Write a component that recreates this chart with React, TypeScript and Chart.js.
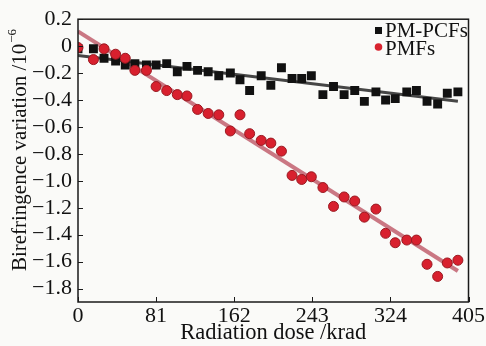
import React, { useEffect, useRef } from "react";
import { Chart, registerables } from "chart.js";

Chart.register(...registerables);

// Radiation dose (krad) of each measurement
const doseKrad = [0, 16, 27, 39, 49, 59, 71, 81, 92, 103, 113, 124, 135, 146, 158, 168, 178, 190, 200, 211, 222, 232, 242, 254, 265, 276, 287, 297, 309, 319, 329, 341, 351, 362, 373, 383, 394];
// PM-PCFs birefringence variation (1e-6)
const pcfValues = [-0.02, -0.02, -0.09, -0.11, -0.14, -0.13, -0.14, -0.14, -0.13, -0.19, -0.15, -0.18, -0.19, -0.22, -0.2, -0.25, -0.33, -0.22, -0.29, -0.16, -0.24, -0.24, -0.22, -0.36, -0.3, -0.36, -0.33, -0.41, -0.34, -0.4, -0.39, -0.34, -0.33, -0.41, -0.43, -0.35, -0.34];
// PMFs birefringence variation (1e-6)
const pmfValues = [-0.01, -0.1, -0.02, -0.06, -0.09, -0.18, -0.18, -0.3, -0.33, -0.36, -0.37, -0.47, -0.5, -0.51, -0.63, -0.51, -0.65, -0.7, -0.72, -0.78, -0.96, -0.99, -0.97, -1.05, -1.19, -1.12, -1.15, -1.27, -1.21, -1.39, -1.46, -1.44, -1.44, -1.62, -1.71, -1.61, -1.59];
// Fitted lines (end points)
const fitDose = [0, 394];
const pcfFit = [-0.07, -0.41];
const pmfFit = [0.11, -1.67];

const xTicks = [0, 81, 162, 243, 324, 405];
const yTicks = [0.2, 0, -0.2, -0.4, -0.6, -0.8, -1.0, -1.2, -1.4, -1.6, -1.8];
const seriesNames = ["PM-PCFs", "PMFs"];
const xTitle = "Radiation dose /krad";
const yTitle = "Birefringence variation /10";
const yTitleSup = "−6";

const FONT = "'Liberation Serif', 'Times New Roman', serif";

const toPts = (xs: number[], ys: number[]) => xs.map((x, i) => ({ x, y: ys[i] }));

const fmtY = (v: number) => {
  if (Math.abs(v) < 1e-9) return "0";
  return (v < 0 ? "−" : "") + Math.abs(v).toFixed(1);
};

const decorPlugin = {
  id: "decor",
  beforeDraw(chart: any) {
    const ctx = chart.ctx;
    ctx.save();
    ctx.fillStyle = "#fafaf8";
    ctx.fillRect(0, 0, chart.width, chart.height);
    ctx.restore();
  },
  afterDraw(chart: any) {
    const ctx = chart.ctx;
    const a = chart.chartArea;
    const xs = chart.scales.x;
    const ys = chart.scales.y;
    ctx.save();
    // frame
    ctx.strokeStyle = "#1a1a1a";
    ctx.lineWidth = 1.5;
    ctx.strokeRect(a.left, a.top, a.right - a.left, a.bottom - a.top);
    // inward ticks
    ctx.lineWidth = 1;
    ctx.beginPath();
    xTicks.forEach((v) => {
      const px = Math.round(xs.getPixelForValue(v)) + 0.5;
      ctx.moveTo(px, a.bottom);
      ctx.lineTo(px, a.bottom - 5);
    });
    yTicks.forEach((v) => {
      const py = Math.round(ys.getPixelForValue(v)) + 0.5;
      ctx.moveTo(a.left, py);
      ctx.lineTo(a.left + 5, py);
    });
    ctx.stroke();

    // titles
    ctx.fillStyle = "#111";
    ctx.font = `22.5px ${FONT}`;
    ctx.textAlign = "center";
    ctx.textBaseline = "middle";
    ctx.fillText(xTitle, (a.left + a.right) / 2, 333);

    ctx.save();
    ctx.translate(20, 150);
    ctx.rotate(-Math.PI / 2);
    ctx.font = `21px ${FONT}`;
    const mainW = ctx.measureText(yTitle).width;
    ctx.font = `13px ${FONT}`;
    const supW = ctx.measureText(yTitleSup).width;
    const total = mainW + supW + 1;
    ctx.textAlign = "left";
    ctx.font = `21px ${FONT}`;
    ctx.fillText(yTitle, -total / 2, 0);
    ctx.font = `13px ${FONT}`;
    ctx.fillText(yTitleSup, -total / 2 + mainW + 1, -7);
    ctx.restore();

    // legend
    ctx.font = `21px ${FONT}`;
    ctx.textAlign = "left";
    ctx.textBaseline = "middle";
    ctx.fillStyle = "#111";
    ctx.fillRect(375, 27, 7, 7);
    ctx.fillText(seriesNames[0], 385, 31);
    ctx.fillStyle = "#d8232f";
    ctx.beginPath();
    ctx.arc(378.5, 47, 3.8, 0, Math.PI * 2);
    ctx.fill();
    ctx.fillStyle = "#111";
    ctx.fillText(seriesNames[1], 385, 49);
    ctx.restore();
  },
};

export default function App() {
  const ref = useRef<HTMLCanvasElement | null>(null);
  useEffect(() => {
    if (!ref.current) return;
    const chart = new Chart(ref.current, {
      type: "scatter",
      data: {
        datasets: [
          {
            label: "PMFs fit",
            data: toPts(fitDose, pmfFit),
            showLine: true,
            borderColor: "rgba(196,104,118,0.9)",
            borderWidth: 4,
            pointRadius: 0,
            order: 4,
          },
          {
            label: "PM-PCFs fit",
            data: toPts(fitDose, pcfFit),
            showLine: true,
            borderColor: "rgba(50,50,50,0.9)",
            borderWidth: 3,
            pointRadius: 0,
            order: 3,
          },
          {
            label: seriesNames[0],
            data: toPts(doseKrad, pcfValues),
            pointStyle: "rect",
            pointRadius: 6.3,
            backgroundColor: "#111111",
            borderColor: "#111111",
            borderWidth: 0,
            order: 2,
          },
          {
            label: seriesNames[1],
            data: toPts(doseKrad, pmfValues),
            pointStyle: "circle",
            pointRadius: 5,
            backgroundColor: "#d8202e",
            borderColor: "#9a1a22",
            borderWidth: 1,
            order: 1,
          },
        ],
      },
      options: {
        animation: false,
        responsive: false,
        devicePixelRatio: 1,
        events: [],
        layout: { padding: { top: 14, right: 15, left: 0, bottom: 0 } },
        plugins: {
          legend: { display: false },
          tooltip: { enabled: false },
          title: { display: false },
        },
        scales: {
          x: {
            type: "linear",
            min: 0,
            max: 405,
            grid: { display: false, drawTicks: false },
            border: { display: false },
            afterBuildTicks: (s: any) => {
              s.ticks = xTicks.map((v) => ({ value: v }));
            },
            afterFit: (s: any) => {
              s.height = 44;
            },
            ticks: {
              padding: 1,
              color: "#111",
              font: { family: FONT, size: 22 },
              maxRotation: 0,
              autoSkip: false,
              callback: (v: any) => String(v),
            },
          },
          y: {
            type: "linear",
            min: -1.9,
            max: 0.2,
            grid: { display: false, drawTicks: false },
            border: { display: false },
            afterBuildTicks: (s: any) => {
              s.ticks = yTicks.map((v) => ({ value: v }));
            },
            afterFit: (s: any) => {
              s.width = 78;
            },
            ticks: {
              padding: 6,
              color: "#111",
              font: { family: FONT, size: 22 },
              autoSkip: false,
              callback: (v: any) => fmtY(Number(v)),
            },
          },
        },
      },
      plugins: [decorPlugin],
    } as any);
    return () => chart.destroy();
  }, []);
  return (
    <div style={{ position: "fixed", left: 0, top: 0, width: 486, height: 346 }}>
      <canvas ref={ref} width={486} height={346} style={{ width: 486, height: 346, display: "block" }} />
    </div>
  );
}
